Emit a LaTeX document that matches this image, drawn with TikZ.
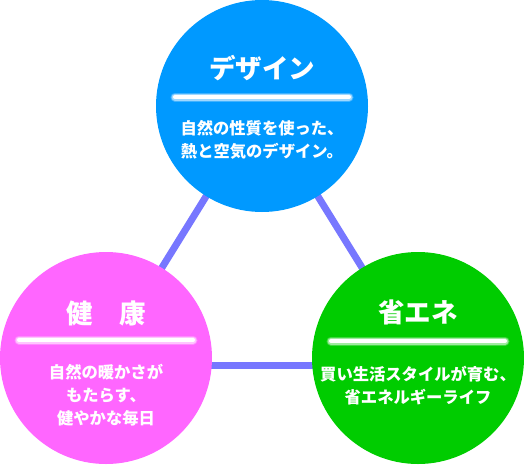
\documentclass[tikz,border=0pt]{standalone}
\usepackage{fontspec}
\setmainfont{Noto Sans CJK JP}
\usetikzlibrary{positioning,calc,backgrounds}
\definecolor{design-blue}{RGB}{0,153,255}
\definecolor{health-pink}{RGB}{255,102,255}
\definecolor{eco-green}{RGB}{0,204,0}
\definecolor{link-violet}{RGB}{119,119,255}

\begin{document}
\begin{tikzpicture}[x=1pt, y=-1pt,
    ball/.style={circle, inner sep=0pt, minimum size=212pt},
    ttl/.style={text=white, inner sep=0pt, font=\fontsize{26.5}{30}\selectfont\bfseries},
    txt/.style={text=white, inner sep=0pt, align=center, font=\fontsize{16.3}{23}\selectfont\bfseries},
    link/.style={link-violet, line width=7pt}]
  \useasboundingbox (0,0) rectangle (524,466);
  % three circles
  \node[ball, fill=design-blue] (D) at (262,106) {};
  \node[ball, fill=health-pink] (K) at (106,358) {};
  \node[ball, fill=eco-green] (S) at (418,358) {};
  % titles
  \node[ttl] (Dt) at ($(D)+(0,-38)$) {デザイン};
  \node[ttl] (Kt) at ($(K)+(0,-45)$) {健　康};
  \node[ttl] (St) at ($(S)+(0,-46)$) {省エネ};
  % glowing bars
  \foreach \c/\dy in {D/-9, K/-18, S/-17}
    \foreach \w/\o in {9/.25, 7/.5, 4/1}
      \draw[white, opacity=\o, line width=\w pt, line cap=round]
        ($(\c)+(-87,\dy)$) -- ($(\c)+(87,\dy)$);
  % texts
  \node[txt] (Dx) at ($(D)+(0,34)$) {自然の性質を使った、\\熱と空気のデザイン。};
  \node[txt] (Kx) at ($(K)+(0,37)$) {自然の暖かさが\\もたらす、\\健やかな毎日};
  \node[txt] (Sx) at ($(S)+(0,28)$) {買い生活スタイルが育む、\\省エネルギーライフ};
  % triangle behind
  \begin{scope}[on background layer]
    \draw[link] (D.center) -- (K.center);
    \draw[link] (D.center) -- (S.center);
    \draw[link] ([shift={(0,7)}]K.center) -- ([shift={(0,7)}]S.center);
  \end{scope}
\end{tikzpicture}
\end{document}
